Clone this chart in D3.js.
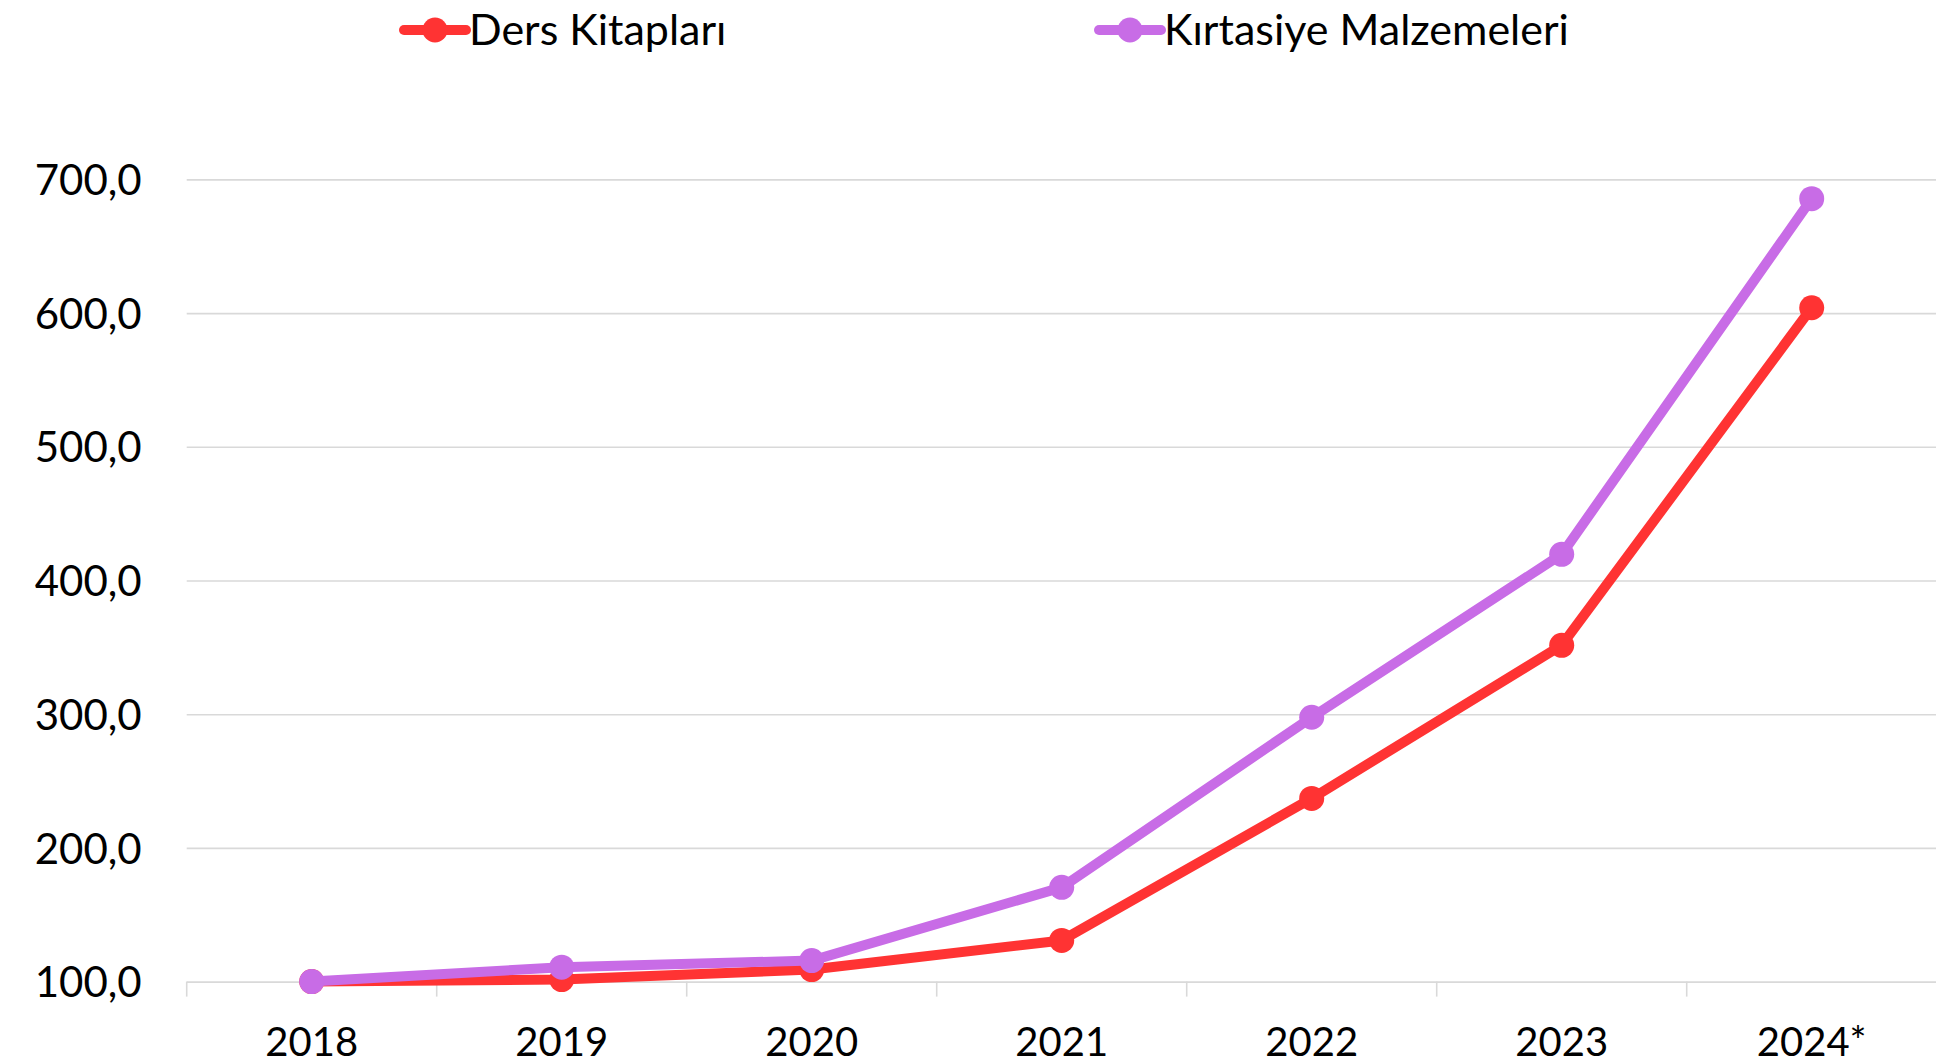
<html>
<head>
<meta charset="utf-8">
<script src="https://cdn.jsdelivr.net/npm/d3@7"></script>
<style>
body { margin:0; background:#ffffff; }
svg { display:block; }
text { font-family: Lato, "Open Sans", sans-serif; fill:#000000; }
</style>
</head>
<body>
<svg id="chart" width="1936" height="1063"></svg>
<script>
// chart data
var years = ["2018", "2019", "2020", "2021", "2022", "2023", "2024*"];
var dersKitaplari = [100, 101.5, 109, 130.8, 237, 351.5, 604];
var kirtasiye = [100, 110.8, 115.7, 170.5, 297.7, 419.6, 685.6];
var yTicks = [100, 200, 300, 400, 500, 600, 700];
var seriesNames = ["Ders Kitapları", "Kırtasiye Malzemeleri"];
var seriesColors = ["#ff3333", "#c86ce6"];

var svg = d3.select("#chart");
var xScale = d3.scaleBand().domain(years).range([186.7, 1936.7]);
var yScale = d3.scaleLinear().domain([100, 700]).range([981.6, 179.4]);
var trFormat = d3.formatLocale({decimal: ",", thousands: ".", grouping: [3], currency: ["", ""]}).format(".1f");

// gridlines + y labels
var yAxis = d3.axisLeft(yScale).tickValues(yTicks).tickSize(-1750).tickPadding(45).tickFormat(trFormat);
var yg = svg.append("g").attr("transform", "translate(186.7,0)").call(yAxis);
yg.select(".domain").remove();
yg.selectAll(".tick line").attr("stroke", "#d9d9d9").attr("stroke-width", 1.6);
yg.selectAll(".tick text").style("font-size", "42px").attr("fill", "#000000").attr("dy", "0.36em");

// category boundary ticks under the baseline
svg.append("g").selectAll("line").data(years).enter().append("line")
	.attr("x1", function(d) { return xScale(d); })
	.attr("x2", function(d) { return xScale(d); })
	.attr("y1", yScale(100)).attr("y2", yScale(100) + 15)
	.attr("stroke", "#d9d9d9").attr("stroke-width", 1.6);

// x labels
svg.append("g").selectAll("text").data(years).enter().append("text")
	.attr("x", function(d) { return xScale(d) + xScale.bandwidth() / 2; })
	.attr("y", 1056)
	.attr("text-anchor", "middle")
	.style("font-size", "40px")
	.text(function(d) { return d; });

// lines and markers
var allSeries = [dersKitaplari, kirtasiye];
var line = d3.line()
	.x(function(d, i) { return xScale(years[i]) + xScale.bandwidth() / 2; })
	.y(function(d) { return yScale(d); });

allSeries.forEach(function(values, s) {
	svg.append("path").datum(values)
		.attr("d", line)
		.attr("fill", "none")
		.attr("stroke", seriesColors[s])
		.attr("stroke-width", 10)
		.attr("stroke-linejoin", "round");
	svg.append("g").selectAll("circle").data(values).enter().append("circle")
		.attr("cx", function(d, i) { return xScale(years[i]) + xScale.bandwidth() / 2; })
		.attr("cy", function(d) { return yScale(d); })
		.attr("r", 12.5)
		.attr("fill", seriesColors[s]);
});

// legend
var legendX = [404, 1099];
var legend = svg.append("g").selectAll("g").data(seriesNames).enter().append("g")
	.attr("transform", function(d, i) { return "translate(" + legendX[i] + ",30)"; });
legend.append("line").attr("x1", 0).attr("x2", 62).attr("y1", 0).attr("y2", 0)
	.attr("stroke", function(d, i) { return seriesColors[i]; })
	.attr("stroke-width", 10).attr("stroke-linecap", "round");
legend.append("circle").attr("cx", 31).attr("cy", 0).attr("r", 12.5)
	.attr("fill", function(d, i) { return seriesColors[i]; });
legend.append("text").attr("x", 65).attr("y", 0).attr("dy", "0.36em")
	.style("font-size", "43px")
	.text(function(d) { return d; });
</script>
</body>
</html>
